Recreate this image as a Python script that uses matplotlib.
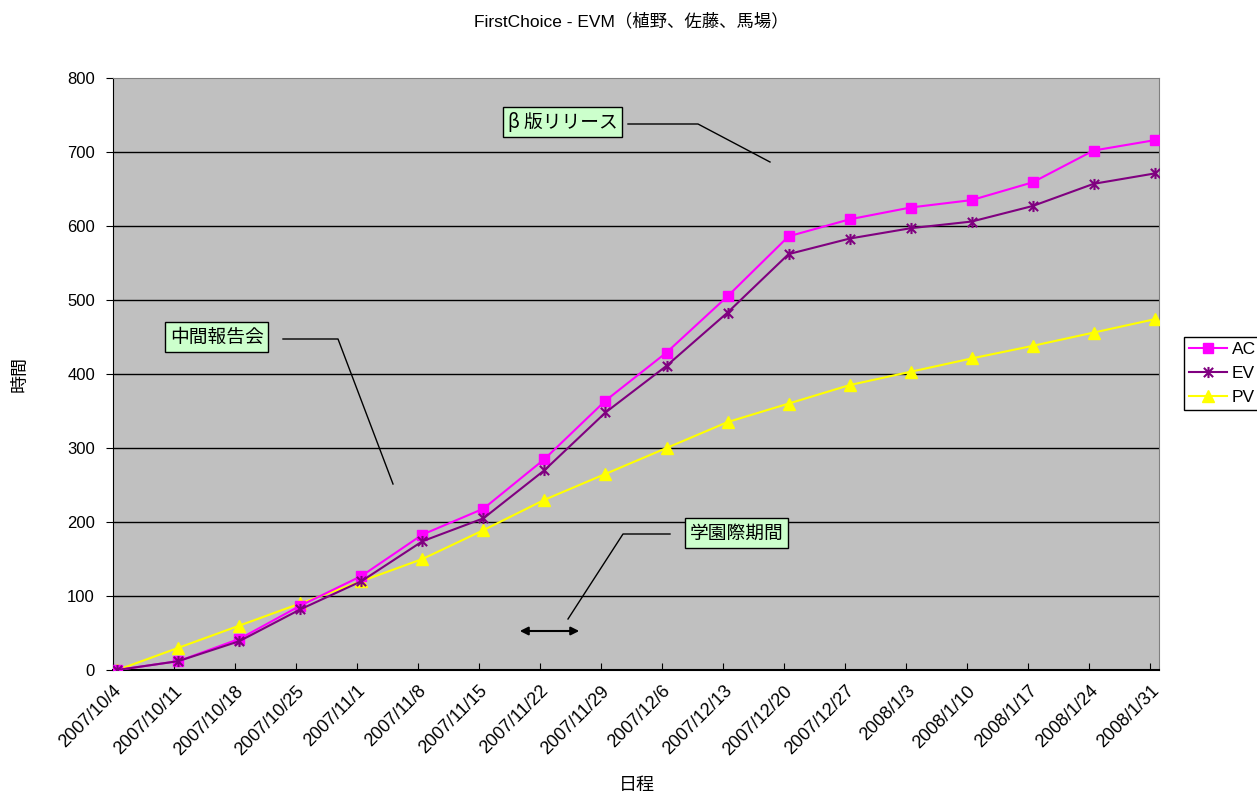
import pandas as pd
import numpy as np
import matplotlib
matplotlib.use('Agg')
import matplotlib.pyplot as plt
from matplotlib.path import Path

plt.rcParams['font.family'] = ['Noto Sans CJK JP', 'DejaVu Sans']
LATIN = ['Liberation Sans', 'Noto Sans CJK JP', 'DejaVu Sans']

dates = ['2007/10/4', '2007/10/11', '2007/10/18', '2007/10/25', '2007/11/1', '2007/11/8',
         '2007/11/15', '2007/11/22', '2007/11/29', '2007/12/6', '2007/12/13', '2007/12/20',
         '2007/12/27', '2008/1/3', '2008/1/10', '2008/1/17', '2008/1/24', '2008/1/31']
ac = [0, 12, 42, 87, 127, 183, 218, 285, 364, 429, 505, 586, 609, 625, 635, 659, 702, 716]
ev = [0, 12, 39, 82, 120, 174, 205, 270, 348, 411, 483, 562, 583, 597, 606, 627, 657, 671]
pv = [0, 30, 60, 90, 120, 150, 189, 230, 265, 300, 335, 360, 385, 403, 421, 438, 456, 474]

# excel date axis: one slot per day, points in the middle of the slot
d = pd.to_datetime(dates, format='%Y/%m/%d')
x = np.array((d - d[0]).days)

# asterisk marker like excel's "star"
star = Path([(-1, -1), (1, 1), (-1, 1), (1, -1), (0, -1.2), (0, 1.2)],
            [Path.MOVETO, Path.LINETO, Path.MOVETO, Path.LINETO, Path.MOVETO, Path.LINETO])

fig = plt.figure(figsize=(12.57, 7.95), dpi=100)
ax = fig.add_axes([113/1257, 125/795, 1046/1257, 592/795])
ax.set_facecolor('#C0C0C0')

ax.plot(x, ac, color='#FF00FF', lw=1.5, marker='s', ms=7, mec='#FF00FF', mfc='#FF00FF', label='AC', zorder=5)
ax.plot(x, ev, color='#800080', lw=1.5, marker=star, ms=8, mec='#800080', mew=1.5, label='EV', zorder=6)
ax.plot(x, pv, color='#FFFF00', lw=1.5, marker='^', ms=8, mec='#FFFF00', mfc='#FFFF00', label='PV', zorder=4)

ax.set_xlim(-0.5, x[-1] + 0.5)
ax.set_ylim(0, 800)
ax.set_yticks(range(0, 801, 100))
for v in range(100, 800, 100):
    ax.axhline(v, color='black', lw=1, zorder=1)

ax.set_xticks(x - 0.5)
ax.set_xticklabels(dates, rotation=45, ha='right', rotation_mode='anchor',
                   family=LATIN, fontsize=13)
ax.tick_params(axis='x', direction='in', length=5, pad=9)
ax.tick_params(axis='y', direction='out', length=5, pad=8, labelsize=12)
for t in ax.get_yticklabels():
    t.set_family(LATIN)

for s in ['top', 'right']:
    ax.spines[s].set_color('#808080')
ax.spines['left'].set_color('black')
ax.spines['bottom'].set_color('black')
ax.spines['bottom'].set_linewidth(1.5)

fig.text(631/1257, 1 - 21/795, 'FirstChoice - EVM（植野、佐藤、馬場）', ha='center', va='center',
         fontsize=12.5, family=LATIN)
fig.text(637/1257, 1 - 785/795, '日程', ha='center', va='center', fontsize=13)
fig.text(20/1257, 1 - 374/795, '時間', ha='center', va='center', rotation=90, fontsize=13)

leg = ax.legend(loc='upper left', bbox_to_anchor=(1184/1257, 1 - 337/795),
                bbox_transform=fig.transFigure, frameon=True, fancybox=False,
                edgecolor='black', framealpha=1, borderpad=0.3, handlelength=2.2,
                handletextpad=0.25, labelspacing=0.5, borderaxespad=0,
                prop={'family': LATIN, 'size': 12.5})
leg.get_frame().set_linewidth(1)

box = dict(boxstyle='square,pad=0.25', fc='#CCFFCC', ec='black', lw=1)
pix = lambda px, py: ax.transData.inverted().transform(fig.transFigure.transform((px/1257, 1 - py/795)))

def callout(text, tx, ty, pts):
    fig.text(tx/1257, 1 - ty/795, text, ha='left', va='center', fontsize=13.5, bbox=box, zorder=10)
    xs, ys = zip(*[pix(px, py) for px, py in pts])
    ax.plot(xs, ys, color='black', lw=1, zorder=7)

callout('β 版リリース', 508, 122, [(628, 124), (698, 124), (770, 162)])
callout('中間報告会', 170, 337, [(283, 339), (338, 339), (393, 484)])
callout('学園際期間', 690, 533, [(670, 534), (623, 534), (568, 619)])

a0 = pix(517, 631)
a1 = pix(582, 631)
ax.annotate('', xy=a1, xytext=a0,
            arrowprops=dict(arrowstyle='<|-|>', color='black', lw=1.5, mutation_scale=12), zorder=8)

fig.savefig('out.png', dpi=100)
